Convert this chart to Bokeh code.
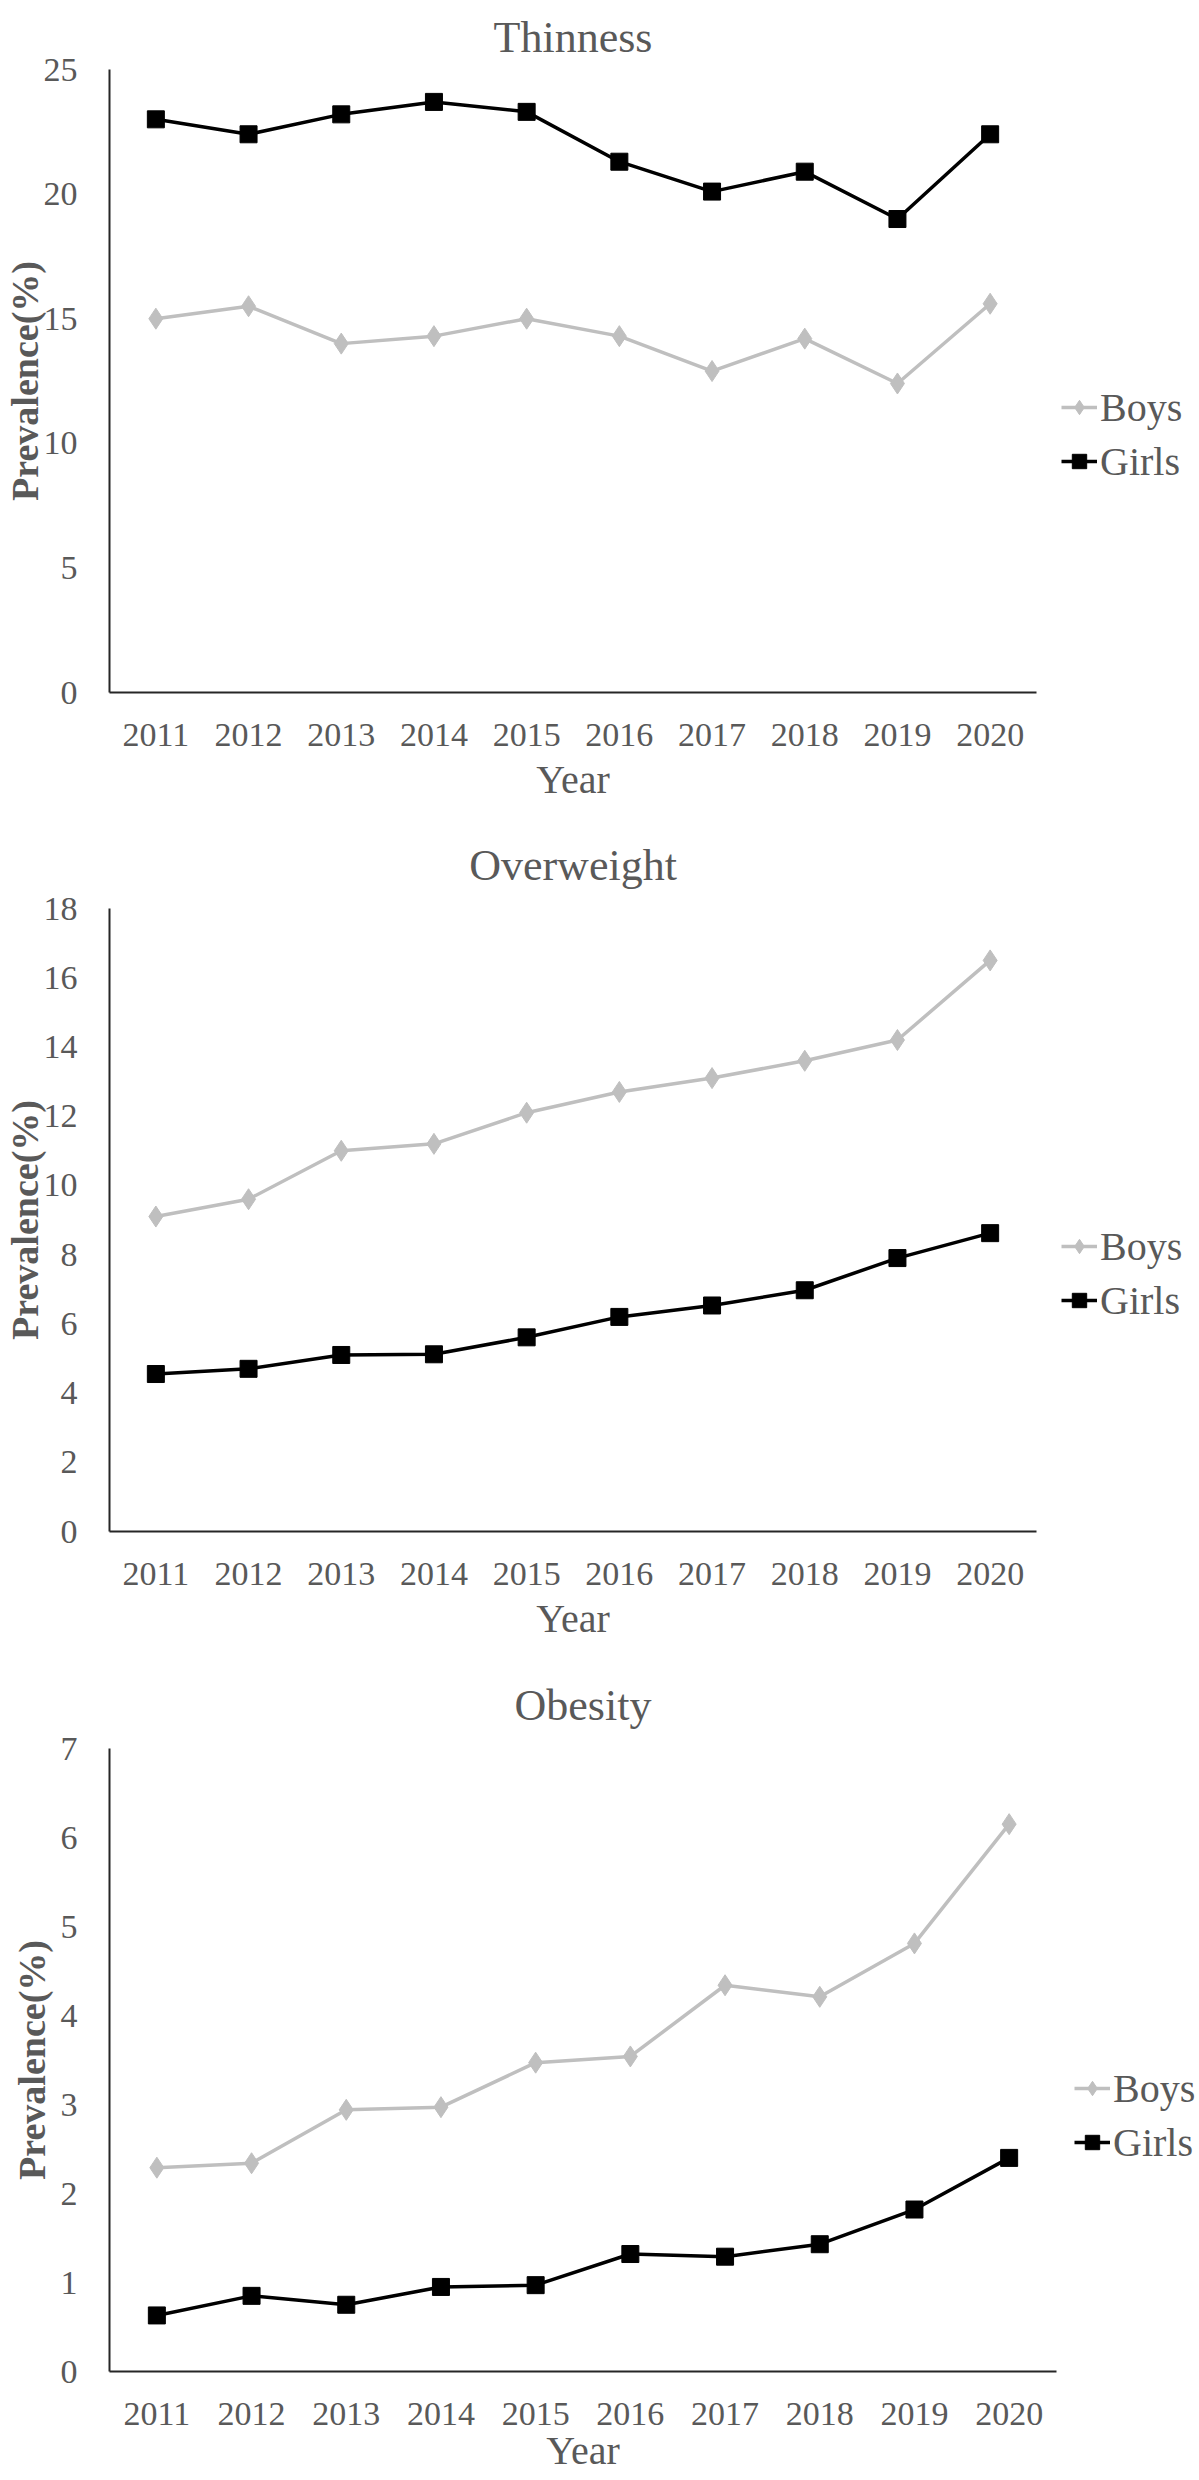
from bokeh.plotting import figure
from bokeh.layouts import column
from bokeh.models import Range1d, FactorRange, FixedTicker, Legend, LegendItem, Title
from bokeh.embed import file_html
from bokeh.resources import INLINE

years = ["2011", "2012", "2013", "2014", "2015", "2016", "2017", "2018", "2019", "2020"]

thin_boys = [15.0, 15.5, 14.0, 14.3, 15.0, 14.3, 12.9, 14.2, 12.4, 15.6]
thin_girls = [23.0, 22.4, 23.2, 23.7, 23.3, 21.3, 20.1, 20.9, 19.0, 22.4]

over_boys = [9.1, 9.6, 11.0, 11.2, 12.1, 12.7, 13.1, 13.6, 14.2, 16.5]
over_girls = [4.55, 4.7, 5.1, 5.12, 5.61, 6.2, 6.53, 6.97, 7.9, 8.62]

obes_boys = [2.29, 2.34, 2.94, 2.97, 3.47, 3.54, 4.34, 4.21, 4.81, 6.15]
obes_girls = [0.63, 0.85, 0.75, 0.95, 0.97, 1.32, 1.29, 1.43, 1.82, 2.40]

titles = ["Thinness", "Overweight", "Obesity"]
y_max = [25, 18, 7]
y_ticks = [[0, 5, 10, 15, 20, 25], list(range(0, 19, 2)), list(range(0, 8))]

FONT = "Liberation Serif"
TXT = "#595959"
BOYS_C = "#BFBFBF"


def make(title, boys, girls, ymax, ticks, left, fw, top, bottom, fig_w, leg_x, leg_y,
         xlab_standoff, ylab_standoff, title_standoff):
    p = figure(x_range=FactorRange(*years, range_padding=0),
               y_range=Range1d(0, ymax),
               frame_width=fw, frame_height=623,
               min_border_left=left, min_border_right=fig_w - left - fw,
               min_border_top=top, min_border_bottom=bottom,
               output_backend="svg", toolbar_location=None)
    p.title = None
    t = Title(text=title, align="center", text_font=FONT, text_font_size="44px",
              text_font_style="normal", text_color=TXT, standoff=title_standoff)
    p.add_layout(t, "above")
    p.outline_line_color = None
    p.xgrid.grid_line_color = None
    p.ygrid.grid_line_color = None
    p.background_fill_color = "white"
    p.border_fill_color = "white"

    for ax in (p.xaxis[0], p.yaxis[0]):
        ax.axis_line_color = "#262626"
        ax.axis_line_width = 2
        ax.major_tick_line_color = None
        ax.minor_tick_line_color = None
        ax.major_tick_out = 0
        ax.major_tick_in = 0
        ax.major_label_text_font = FONT
        ax.major_label_text_font_size = "34px"
        ax.major_label_text_color = TXT
        ax.axis_label_text_font = FONT
        ax.axis_label_text_color = TXT

    p.yaxis.ticker = FixedTicker(ticks=ticks)
    p.yaxis.major_label_standoff = 32
    p.yaxis.axis_label = "Prevalence(%)"
    p.yaxis.axis_label_text_font_size = "38px"
    p.yaxis.axis_label_text_font_style = "bold"
    p.yaxis.axis_label_standoff = ylab_standoff

    p.xaxis.major_label_standoff = 31
    p.xaxis.axis_label = "Year"
    p.xaxis.axis_label_text_font_size = "40px"
    p.xaxis.axis_label_text_font_style = "normal"
    p.xaxis.axis_label_standoff = xlab_standoff

    lb = p.line(years, boys, line_color=BOYS_C, line_width=3.5)
    sb = p.scatter(years, boys, marker="diamond", size=21, fill_color=BOYS_C, line_color=BOYS_C)
    lg = p.line(years, girls, line_color="black", line_width=3.5)
    sg = p.scatter(years, girls, marker="square", size=17, fill_color="black", line_color="black")

    legend = Legend(items=[LegendItem(label="Boys", renderers=[lb, sb]),
                           LegendItem(label="Girls", renderers=[lg, sg])],
                    location=(leg_x, leg_y),
                    label_text_font=FONT, label_text_font_size="40px", label_text_color=TXT,
                    glyph_width=36, glyph_height=48, label_height=48, label_standoff=3,
                    spacing=6, padding=0, margin=0, border_line_color=None,
                    background_fill_alpha=0)
    p.add_layout(legend, "right")
    return p


p1 = make(titles[0], thin_boys, thin_girls, y_max[0], y_ticks[0],
          103, 927, 69, 125, 1191, 25, 207, 8, -5, 16)
p2 = make(titles[1], over_boys, over_girls, y_max[1], y_ticks[1],
          103, 927, 91, 125, 1191, 25, 207, 8, -5, 38)
p3 = make(titles[2], obes_boys, obes_girls, y_max[2], y_ticks[2],
          96, 947, 92, 101, 1191, 18, 205, 0, 5, 38)

layout = column(p1, p2, p3, spacing=0)
open("out.html", "w").write(file_html(layout, INLINE))
